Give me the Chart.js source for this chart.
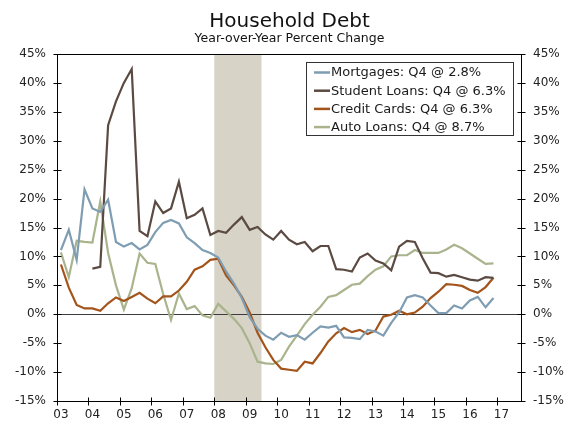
<!DOCTYPE html>
<html>
<head>
<meta charset="utf-8">
<script src="https://cdn.jsdelivr.net/npm/chart.js@4"></script>
<style>
  html, body { margin: 0; padding: 0; background: #fff; }
  #wrap { width: 579px; height: 424px; position: relative; }
</style>
</head>
<body>
<div id="wrap"><canvas id="debt-chart"></canvas></div>
<script>
// quarterly data, 2003Q1 - 2016Q4, year-over-year % change
const years = [2003, 2004, 2005, 2006, 2007, 2008, 2009, 2010, 2011, 2012, 2013, 2014, 2015, 2016];
const yearTicks = [2003, 2004, 2005, 2006, 2007, 2008, 2009, 2010, 2011, 2012, 2013, 2014, 2015, 2016, 2017];
const yTicks = [-15, -10, -5, 0, 5, 10, 15, 20, 25, 30, 35, 40, 45];
const recession = [2008.0, 2009.5];

const mortgages = [11.1, 14.6, 9.4, 21.6, 18.3, 17.7, 19.8, 12.5, 11.7, 12.3, 11.2, 12.0,
  14.2, 15.8, 16.3, 15.7, 13.3, 12.3, 11.1, 10.6, 9.8, 7.4, 5.3, 2.8,
  -0.5, -2.5, -3.7, -4.4, -3.2, -3.9, -3.6, -4.4, -3.2, -2.1, -2.3, -2.0, -4.0, -4.1, -4.3, -2.7,
  -3.0, -3.7, -1.5, 0.3, 2.9, 3.3, 2.9, 1.5, 0.2, 0.2, 1.5, 1.0, 2.4, 3.0, 1.2, 2.8];
const studentLoans = [null, null, null, null, 7.9, 8.2, 32.7, 36.8, 40.0, 42.4, 14.4, 13.5,
  19.5, 17.5, 18.3, 22.9, 16.6, 17.2, 18.3, 13.7, 14.4, 14.1, 15.5, 16.8,
  14.6, 15.1, 13.8, 12.9, 14.4, 12.9, 12.1, 12.5, 10.9, 11.8, 11.8, 7.8, 7.7, 7.4, 9.8, 10.5,
  9.3, 8.8, 7.6, 11.7, 12.7, 12.5, 9.7, 7.2, 7.1, 6.5, 6.8, 6.4, 6.0, 5.8, 6.4, 6.3];
const creditCards = [8.6, 4.6, 1.6, 1.0, 1.0, 0.6, 1.9, 2.9, 2.3, 3.0, 3.7, 2.7,
  1.9, 3.1, 3.1, 4.1, 5.6, 7.7, 8.3, 9.4, 9.6, 6.7, 5.0, 3.0,
  0.3, -3.2, -5.7, -7.9, -9.4, -9.6, -9.8, -8.2, -8.5, -6.7, -4.7, -3.3, -2.4, -3.1, -2.7, -3.4,
  -2.8, -0.4, -0.1, 0.6, 0.0, 0.3, 1.3, 2.8, 3.9, 5.2, 5.1, 4.9, 4.2, 3.7, 4.7, 6.3];
const autoLoans = [10.7, 6.4, 12.7, 12.5, 12.4, 19.5, 10.6, 5.0, 0.8, 4.5, 10.5, 8.9,
  8.7, 3.5, -1.0, 3.6, 0.9, 1.4, -0.2, -0.6, 1.8, 0.5, -0.8, -2.4,
  -5.0, -8.2, -8.5, -8.6, -7.9, -5.6, -3.7, -1.7, -0.1, 1.3, 3.0, 3.3, 4.2, 5.1, 5.3, 6.6,
  7.7, 8.3, 10.0, 10.2, 10.2, 11.1, 10.6, 10.6, 10.6, 11.2, 12.0, 11.4, 10.5, 9.6, 8.7, 8.8];

const seriesNames = ['Mortgages: Q4 @ 2.8%', 'Student Loans: Q4 @ 6.3%', 'Credit Cards: Q4 @ 6.3%', 'Auto Loans: Q4 @ 8.7%'];
const seriesColors = ['#7f9db2', '#5a4a42', '#a3541b', '#a9b48d'];

// mid-quarter positions on the time axis
const quarterX = years.flatMap(y => [0, 1, 2, 3].map(q => y + q / 4 + 0.125));

function toPoints(values) {
  return values.map((v, i) => ({ x: quarterX[i], y: v }));
}

const FONT = 'DejaVu Sans';

const frame = {
  id: 'frame',
  beforeDatasetsDraw(chart) {
    const { ctx, chartArea: a, scales } = chart;
    const x0 = scales.x.getPixelForValue(recession[0]);
    const x1 = scales.x.getPixelForValue(recession[1]);
    ctx.save();
    ctx.fillStyle = '#d7d3c6';
    ctx.fillRect(x0, a.top, x1 - x0, a.bottom - a.top);
    const zy = Math.round(scales.y.getPixelForValue(0)) + 0.5;
    ctx.strokeStyle = '#3c3c3c';
    ctx.lineWidth = 1;
    ctx.beginPath();
    ctx.moveTo(a.left, zy);
    ctx.lineTo(a.right, zy);
    ctx.stroke();
    ctx.restore();
  },
  afterDatasetsDraw(chart) {
    const { ctx, chartArea: a, scales } = chart;
    const L = Math.round(a.left) + 0.5, R = Math.round(a.right) + 0.5;
    const T = Math.round(a.top) + 0.5, B = Math.round(a.bottom) + 0.5;
    ctx.save();
    ctx.strokeStyle = '#000';
    ctx.lineWidth = 1;
    ctx.beginPath();
    ctx.moveTo(L, T); ctx.lineTo(R, T);
    ctx.moveTo(L, T); ctx.lineTo(L, B);
    ctx.moveTo(R, T); ctx.lineTo(R, B);
    ctx.moveTo(L, B); ctx.lineTo(R, B);
    yTicks.forEach(v => {
      const y = Math.round(scales.y.getPixelForValue(v)) + 0.5;
      ctx.moveTo(L - 4, y); ctx.lineTo(L + 4, y);
      ctx.moveTo(R - 4, y); ctx.lineTo(R + 4, y);
    });
    yearTicks.forEach(v => {
      const x = Math.round(scales.x.getPixelForValue(v)) + 0.5;
      ctx.moveTo(x, B - 4); ctx.lineTo(x, B + 4);
    });
    ctx.stroke();

    // titles
    ctx.fillStyle = '#111';
    ctx.textAlign = 'center';
    ctx.textBaseline = 'alphabetic';
    ctx.font = '20px "' + FONT + '"';
    ctx.fillText('Household Debt', 289.5, 27);
    ctx.font = '12.5px "' + FONT + '"';
    ctx.fillText('Year-over-Year Percent Change', 289.5, 42);

    // legend box
    const bx = 306.5, by = 62.5, bw = 207, bh = 73;
    ctx.fillStyle = '#fff';
    ctx.fillRect(bx, by, bw, bh);
    ctx.strokeStyle = '#333';
    ctx.strokeRect(bx, by, bw, bh);
    ctx.font = '13px "' + FONT + '"';
    ctx.textAlign = 'left';
    ctx.textBaseline = 'middle';
    chart.data.datasets.forEach((ds, i) => {
      const ry = 72.5 + i * 18.2;
      ctx.strokeStyle = ds.borderColor;
      ctx.lineWidth = 2.5;
      ctx.beginPath();
      ctx.moveTo(314, ry); ctx.lineTo(330, ry);
      ctx.stroke();
      ctx.fillStyle = '#1a1a1a';
      ctx.fillText(ds.label, 331, ry + 0.5);
    });
    ctx.restore();
  }
};

const tickFont = { family: FONT, size: 12 };

new Chart(document.getElementById('debt-chart'), {
  type: 'line',
  data: {
    datasets: [mortgages, studentLoans, creditCards, autoLoans].map((vals, i) => ({
      label: seriesNames[i],
      data: toPoints(vals),
      borderColor: seriesColors[i],
      backgroundColor: seriesColors[i],
      borderWidth: 2.2,
      pointRadius: 0,
      tension: 0,
      spanGaps: false
    }))
  },
  options: {
    responsive: true,
    maintainAspectRatio: false,
    animation: false,
    layout: { padding: { top: 54, left: 0, right: 0, bottom: 0 } },
    plugins: {
      legend: { display: false },
      title: { display: false },
      tooltip: { enabled: false }
    },
    scales: {
      x: {
        type: 'linear',
        min: 2003,
        max: 2017.75,
        afterBuildTicks: s => { s.ticks = yearTicks.map(v => ({ value: v })); },
        afterFit: s => { s.height = 23; },
        grid: { display: false, drawTicks: false },
        border: { display: false },
        ticks: {
          font: tickFont,
          color: '#222',
          padding: 7,
          labelOffset: 4,
          maxRotation: 0,
          autoSkip: false,
          callback: v => String(v % 100).padStart(2, '0')
        }
      },
      y: {
        position: 'left',
        min: -15,
        max: 45,
        afterBuildTicks: s => { s.ticks = yTicks.map(v => ({ value: v })); },
        afterFit: s => { s.width = 57; },
        grid: { display: false, drawTicks: false },
        border: { display: false },
        ticks: { font: tickFont, color: '#222', padding: 11, callback: v => v + '%' }
      },
      y2: {
        position: 'right',
        min: -15,
        max: 45,
        afterBuildTicks: s => { s.ticks = yTicks.map(v => ({ value: v })); },
        afterFit: s => { s.width = 58; },
        grid: { display: false, drawTicks: false },
        border: { display: false },
        ticks: { font: tickFont, color: '#222', padding: 12, callback: v => v + '%' }
      }
    }
  },
  plugins: [frame]
});
</script>
</body>
</html>
